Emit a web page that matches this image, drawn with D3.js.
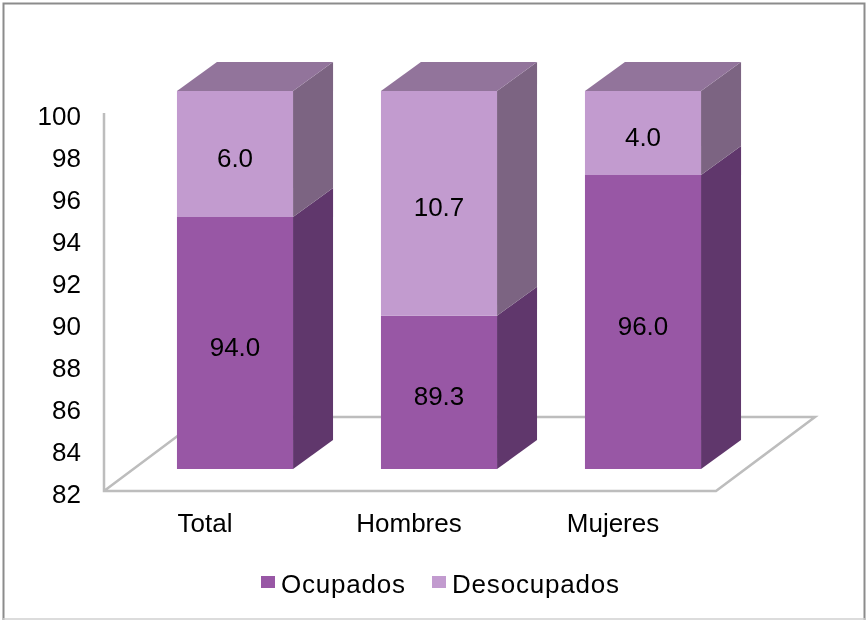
<!DOCTYPE html>
<html>
<head>
<meta charset="utf-8">
<script src="https://d3js.org/d3.v7.min.js"></script>
<style>
	html, body { margin: 0; padding: 0; background: #fff; }
	svg { display: block; filter: blur(0.4px); }
	text { font-family: "Liberation Sans", Arial, sans-serif; fill: #000; }
</style>
</head>
<body>
<div id="chart"></div>
<script>
var categories = ["Total", "Hombres", "Mujeres"]
var seriesNames = ["Ocupados", "Desocupados"]
var ocupados = [94.0, 89.3, 96.0]
var desocupados = [6.0, 10.7, 4.0]
var yTicks = [82, 84, 86, 88, 90, 92, 94, 96, 98, 100]

var width = 866
var height = 620

// 3d look: floor depth and bar depth, in px
var floorDx = 99, floorDy = 74
var barShiftX = 29, barShiftY = 22
var barDx = 40, barDy = 29

var colors = {
	Ocupados: { front: "#9857a5", side: "#60376c" },
	Desocupados: { front: "#c29bcf", side: "#7c6482", top: "#92749b" }
}

var svg = d3.select("#chart").append("svg")
	.attr("width", width)
	.attr("height", height)

// outer border
svg.append("path")
	.attr("d", "M3.5,620V3.5H864.5V620")
	.attr("fill", "none")
	.attr("stroke", "#8c8c8c")
	.attr("stroke-width", 2)
svg.append("line")
	.attr("x1", 3).attr("x2", 865).attr("y1", 619).attr("y2", 619)
	.attr("stroke", "#d0d0d0")
	.attr("stroke-width", 1.5)

var x = d3.scaleBand().domain(categories).range([104, 716]).paddingInner(0.431).paddingOuter(0.2155)
var y = d3.scaleLinear().domain([82, 100]).range([491, 113])

// floor and wall
var floorY = y(82)
var wall = svg.append("g").attr("fill", "none").attr("stroke", "#bdbdbd").attr("stroke-width", 2.5)
wall.append("path")
	.attr("d", "M" + x.range()[0] + "," + y(100) + "V" + floorY + "H" + x.range()[1]
		+ "l" + floorDx + "," + (-floorDy) + "H" + (x.range()[0] + floorDx)
		+ "L" + x.range()[0] + "," + floorY)

// axes, only the labels are shown
var yAxis = d3.axisLeft(y).tickValues(yTicks).tickSize(0).tickPadding(23)
svg.append("g")
	.attr("transform", "translate(104,3)")
	.call(yAxis)
	.call(function(g) { g.select(".domain").remove() })
	.selectAll("text")
	.style("font-family", "'Liberation Sans', Arial, sans-serif")
	.style("font-size", "26px")
	.attr("fill", "#000")

var xAxis = d3.axisBottom(x).tickSize(0).tickPadding(23)
svg.append("g")
	.attr("transform", "translate(-1," + floorY + ")")
	.call(xAxis)
	.call(function(g) { g.select(".domain").remove() })
	.selectAll("text")
	.style("font-family", "'Liberation Sans', Arial, sans-serif")
	.style("font-size", "26px")
	.attr("fill", "#000")

// stacked bars
var tableRows = categories.map(function(c, i) {
	return { category: c, Ocupados: ocupados[i], Desocupados: desocupados[i] }
})
var stacked = d3.stack().keys(seriesNames)(tableRows)

function barLeft(d) { return x(d.data.category) + barShiftX }
function yPos(v) { return y(Math.max(v, 82)) - barShiftY }

var layers = svg.selectAll(".layer")
	.data(stacked)
	.enter()
	.append("g")
	.attr("class", "layer")

layers.each(function(layer) {
	var g = d3.select(this)
	var c = colors[layer.key]

	// side face
	g.selectAll(".side")
		.data(layer)
		.enter()
		.append("path")
		.attr("class", "side")
		.attr("fill", c.side)
		.attr("d", function(d) {
			var r = barLeft(d) + x.bandwidth()
			return "M" + r + "," + yPos(d[0]) + "l" + barDx + "," + (-barDy)
				+ "V" + (yPos(d[1]) - barDy) + "L" + r + "," + yPos(d[1]) + "Z"
		})

	// front face
	g.selectAll(".front")
		.data(layer)
		.enter()
		.append("rect")
		.attr("class", "front")
		.attr("fill", c.front)
		.attr("x", barLeft)
		.attr("y", function(d) { return yPos(d[1]) })
		.attr("width", x.bandwidth())
		.attr("height", function(d) { return yPos(d[0]) - yPos(d[1]) })

	// top face, only on the last series
	if (c.top) {
		g.selectAll(".top")
			.data(layer)
			.enter()
			.append("path")
			.attr("class", "top")
			.attr("fill", c.top)
			.attr("d", function(d) {
				return "M" + barLeft(d) + "," + yPos(d[1]) + "l" + barDx + "," + (-barDy)
					+ "h" + x.bandwidth() + "l" + (-barDx) + "," + barDy + "Z"
			})
	}

	// value labels
	g.selectAll(".value")
		.data(layer)
		.enter()
		.append("text")
		.attr("class", "value")
		.attr("x", function(d) { return barLeft(d) + x.bandwidth() / 2 })
		.attr("y", function(d) { return (yPos(d[0]) + yPos(d[1])) / 2 + 13 })
		.attr("text-anchor", "middle")
		.style("font-size", "26px")
		.text(function(d) { return (d[1] - d[0]).toFixed(1) })
})

// legend
var legendX = [261, 432]
var legend = svg.selectAll(".legend")
	.data(seriesNames)
	.enter()
	.append("g")
	.attr("class", "legend")
	.attr("transform", function(d, i) { return "translate(" + legendX[i] + ",576)" })

legend.append("rect")
	.attr("width", 14)
	.attr("height", 12)
	.attr("fill", function(d) { return colors[d].front })

legend.append("text")
	.attr("x", 20)
	.attr("y", 17)
	.style("font-size", "26px")
	.style("letter-spacing", "0.8px")
	.text(function(d) { return d })
</script>
</body>
</html>
